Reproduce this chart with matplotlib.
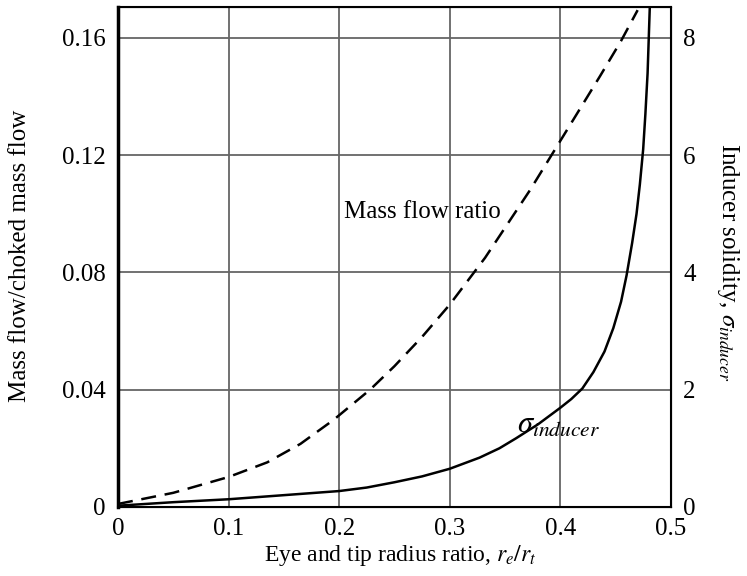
import numpy as np
import matplotlib
matplotlib.use("Agg")
import matplotlib.pyplot as plt

plt.rcParams['font.family'] = ['Liberation Serif', 'DejaVu Serif']
plt.rcParams['mathtext.fontset'] = 'stix'

# dashed curve: mass flow ratio (left axis)
mf_x = [0.0, 0.05, 0.1, 0.135, 0.165, 0.195, 0.228, 0.25, 0.275, 0.3, 0.332, 0.3725, 0.41, 0.436, 0.455, 0.47]
mf_y = [0.001, 0.0048, 0.0102, 0.0152, 0.0215, 0.0297, 0.040, 0.048, 0.058, 0.069, 0.085, 0.108, 0.131, 0.147, 0.159, 0.1695]

# solid curve: inducer solidity (right axis)
sig_x = [0.0, 0.05, 0.1, 0.15, 0.2, 0.225, 0.25, 0.275, 0.3, 0.327, 0.345, 0.36, 0.38, 0.4, 0.41, 0.42,
         0.43, 0.44, 0.448, 0.455, 0.46, 0.465, 0.469, 0.472, 0.475, 0.477, 0.479, 0.481]
sig_y = [0.02, 0.08, 0.13, 0.2, 0.27, 0.33, 0.42, 0.52, 0.65, 0.84, 1.0, 1.17, 1.41, 1.69, 1.84, 2.02,
         2.3, 2.65, 3.05, 3.5, 3.95, 4.5, 5.0, 5.5, 6.1, 6.7, 7.4, 8.53]

xticks = [0, 0.1, 0.2, 0.3, 0.4, 0.5]
xtick_labels = ['0', '0.1', '0.2', '0.3', '0.4', '0.5']
yticks = [0, 0.04, 0.08, 0.12, 0.16]
ytick_labels = ['0', '0.04', '0.08', '0.12', '0.16']
y2ticks = [0, 2, 4, 6, 8]

fs = 18

fig = plt.figure(figsize=(7.47, 5.76), dpi=100)
ax = fig.add_axes([0.158, 0.12, 0.74, 0.868])
ax.set_xlim(0, 0.5)
ax.set_ylim(0, 0.1706)
ax.set_xticks(xticks)
ax.set_xticklabels(xtick_labels)
ax.set_yticks(yticks)
ax.set_yticklabels(ytick_labels)
ax.grid(True, color='#666666', linewidth=1.3)
ax.tick_params(length=0, labelsize=fs)
ax.tick_params(axis='y', pad=9)
ax.tick_params(axis='x', pad=8)
for s in ax.spines.values():
    s.set_linewidth(1.5)
ax.spines['left'].set_linewidth(2.5)

ax.plot(mf_x, mf_y, color='black', linestyle=(0, (6, 3.5)), linewidth=1.8)

ax2 = ax.twinx()
ax2.set_ylim(0, 8.53)
ax2.set_yticks(y2ticks)
ax2.tick_params(length=0, labelsize=fs, pad=9)
ax2.plot(sig_x, sig_y, color='black', linewidth=1.8)

fig.text(400 / 747, 1 - 556 / 576, 'Eye and tip radius ratio, $r_e/r_t$', fontsize=17,
         ha='center', va='center')
fig.text(20 / 747, 1 - 256 / 576, 'Mass flow/choked mass flow', fontsize=fs,
         rotation=90, ha='center', va='center')
fig.text(728 / 747, 1 - 262 / 576, 'Inducer solidity, $\\sigma_{inducer}$', fontsize=fs,
         rotation=270, ha='center', va='center')

ax.text(0.204, 0.1006, 'Mass flow ratio', fontsize=fs, va='center')
ax.text(0.361, 0.028, '$\\sigma_{inducer}$', fontsize=22, va='center')

fig.savefig('out.png')
